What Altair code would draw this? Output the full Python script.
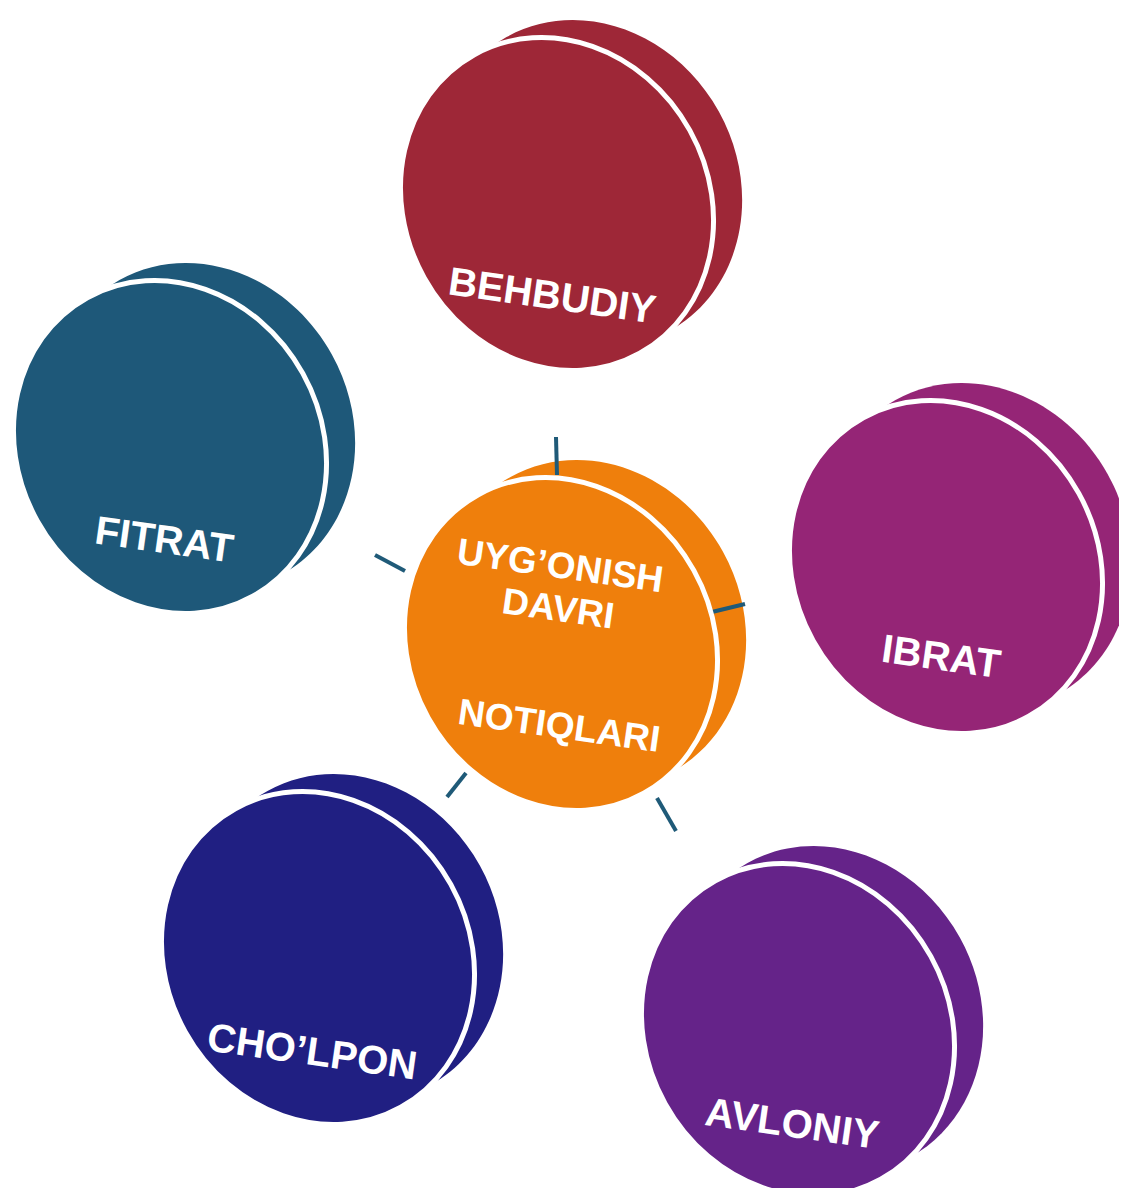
import altair as alt
import pandas as pd

# Discs (front face centres, in picture coordinates)
disc_names = ["BEHBUDIY", "IBRAT", "AVLONIY", "CHO’LPON", "FITRAT", "UYG’ONISH DAVRI NOTIQLARI"]
disc_x = [557, 946, 798, 318, 170, 561]
disc_y = [204, 567, 1030, 958, 447, 644]
disc_colors = ["#9e2737", "#952576", "#652389", "#201f82", "#1e5879", "#ef7f0c"]

# Outer labels
label_text = ["BEHBUDIY", "IBRAT", "AVLONIY", "CHO’LPON", "FITRAT"]
label_x = [552, 941, 792, 312, 164]
label_y = [297, 658, 1125, 1053, 541]

# Centre labels
centre_text = ["UYG’ONISH", "DAVRI", "NOTIQLARI"]
centre_x = [560, 558, 559]
centre_y = [567, 610, 727]

# Spokes around the centre disc
spoke_x1 = [556, 712, 375, 466, 657]
spoke_y1 = [437, 612, 555, 773, 798]
spoke_x2 = [557, 745, 405, 447, 676]
spoke_y2 = [475, 604, 571, 797, 831]

discs = pd.DataFrame({"name": disc_names, "x": disc_x, "y": disc_y})
labels = pd.DataFrame({"text": label_text, "x": label_x, "y": label_y})
centre = pd.DataFrame({"text": centre_text, "x": centre_x, "y": centre_y})
spokes = pd.DataFrame({"x": spoke_x1, "y": spoke_y1, "x2": spoke_x2, "y2": spoke_y2})

W, H = 1111, 1180
xs = alt.Scale(domain=[8, 8 + W], nice=False, zero=False)
ys = alt.Scale(domain=[8, 8 + H], nice=False, zero=False, reverse=True)
X = alt.X("x:Q", scale=xs, axis=None)
Y = alt.Y("y:Q", scale=ys, axis=None)

# ellipse with minor/major ratio 0.89 (cubic Bezier approximation)
ellipse = ("M 1 0 C 1 0.4915 0.5523 0.89 0 0.89 C -0.5523 0.89 -1 0.4915 -1 0 "
           "C -1 -0.4915 -0.5523 -0.89 0 -0.89 C 0.5523 -0.89 1 -0.4915 1 0 Z")
fill = alt.Fill("name:N", scale=alt.Scale(domain=disc_names, range=disc_colors), legend=None)

back = alt.Chart(discs).mark_point(
    shape=ellipse, filled=True, size=113000, angle=61, opacity=1,
    strokeWidth=0, xOffset=31, yOffset=-20
).encode(x=X, y=Y, fill=fill)

front = alt.Chart(discs).mark_point(
    shape=ellipse, filled=True, size=116500, angle=61, opacity=1,
    stroke="white", strokeWidth=5
).encode(x=X, y=Y, fill=fill)

rules = alt.Chart(spokes).mark_rule(color="#1f5a78", strokeWidth=4).encode(
    x=X, y=Y, x2="x2:Q", y2="y2:Q"
)

text_outer = alt.Chart(labels).mark_text(
    font="Liberation Sans", fontWeight="bold", fontSize=40, color="white",
    angle=8, align="center", baseline="middle"
).encode(x=X, y=Y, text="text:N")

text_centre = alt.Chart(centre).mark_text(
    font="Liberation Sans", fontWeight="bold", fontSize=37, color="white",
    angle=8, align="center", baseline="middle"
).encode(x=X, y=Y, text="text:N")

chart = alt.layer(back, rules, front, text_outer, text_centre).properties(
    width=W, height=H, padding=0, autosize="none"
).configure_view(strokeWidth=0)

chart.save("out.html", embed_options={"renderer": "svg", "actions": False})
